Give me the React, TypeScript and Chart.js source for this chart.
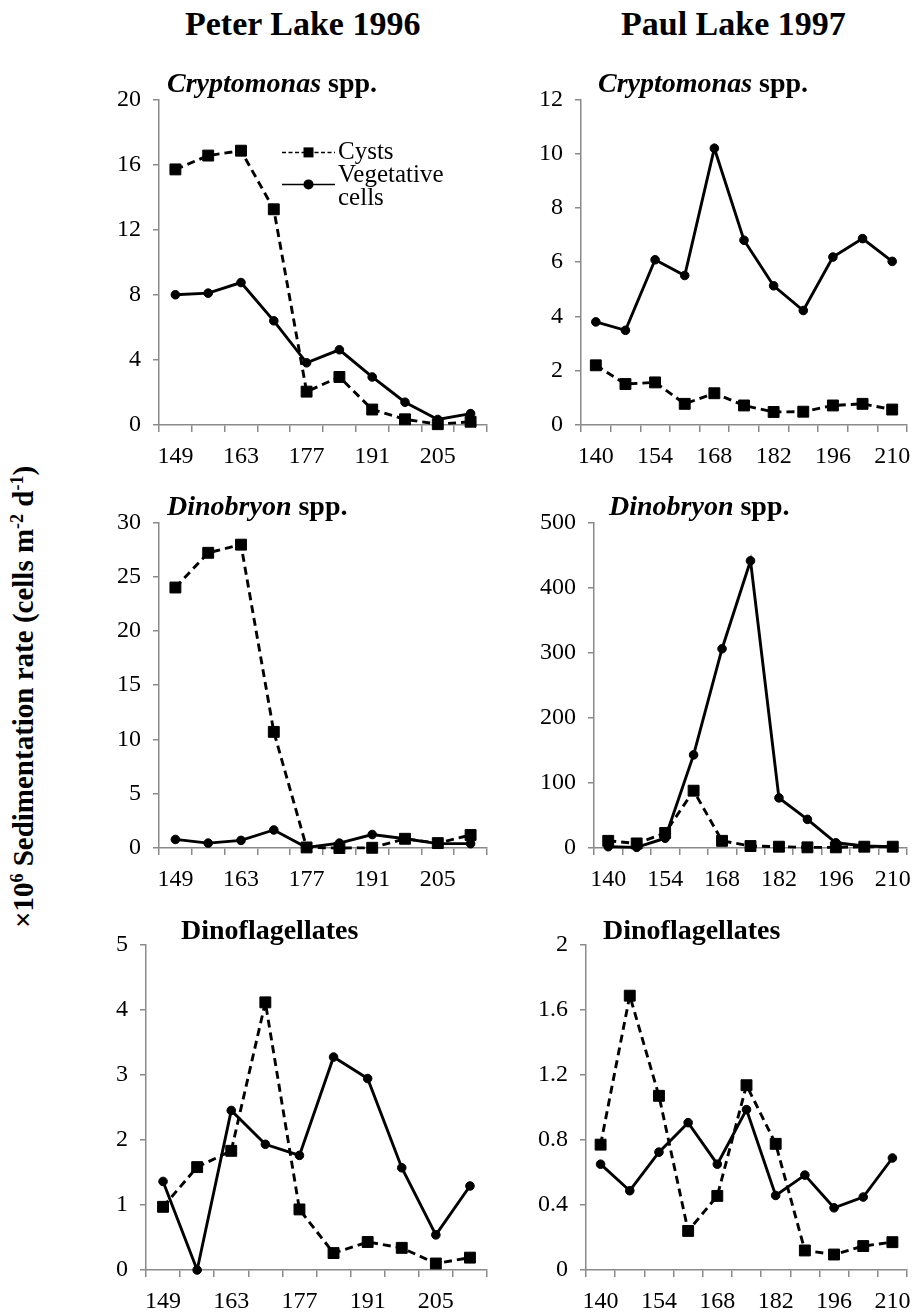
import React, { useEffect, useRef } from 'react';
import { Chart, registerables } from 'chart.js';

Chart.register(...registerables);

// ---------- data ----------
const peterDays = ['149', '156', '163', '170', '177', '184', '191', '198', '205', '212'];
const paulDays = ['140', '147', '154', '161', '168', '175', '182', '189', '196', '203', '210'];

const peterCryptoCysts = [15.7, 16.55, 16.85, 13.25, 2.05, 2.95, 0.95, 0.35, 0.05, 0.2];
const peterCryptoVeg = [8.0, 8.1, 8.75, 6.4, 3.82, 4.62, 2.95, 1.4, 0.34, 0.7];

const paulCryptoCysts = [2.2, 1.51, 1.57, 0.78, 1.17, 0.72, 0.48, 0.49, 0.72, 0.78, 0.57];
const paulCryptoVeg = [3.8, 3.49, 6.09, 5.51, 10.2, 6.81, 5.13, 4.22, 6.19, 6.87, 6.03];

const peterDinoCysts = [24.0, 27.2, 27.95, 10.7, 0.05, 0, 0.02, 0.85, 0.45, 1.2];
const peterDinoVeg = [0.79, 0.45, 0.7, 1.66, 0.05, 0.45, 1.24, 0.85, 0.4, 0.4];

const paulDinoCysts = [11, 7, 23, 88, 11, 3, 2, 1, 1, 2, 2];
const paulDinoVeg = [2, 1, 15, 143, 306, 441, 77, 44, 8, 3, 2];

const peterDinoflagCysts = [0.97, 1.58, 1.83, 4.11, 0.93, 0.26, 0.43, 0.34, 0.1, 0.19];
const peterDinoflagVeg = [1.36, 0, 2.45, 1.93, 1.76, 3.27, 2.94, 1.57, 0.54, 1.29];

const paulDinoflagCysts = [0.77, 1.685, 1.07, 0.24, 0.455, 1.135, 0.775, 0.12, 0.095, 0.147, 0.171];
const paulDinoflagVeg = [0.65, 0.487, 0.724, 0.905, 0.65, 0.985, 0.458, 0.583, 0.382, 0.448, 0.688];

// y-axis ranges [max, step]
const peterCryptoAxis = [20, 4];
const paulCryptoAxis = [12, 2];
const peterDinoAxis = [30, 5];
const paulDinoAxis = [500, 100];
const peterDinoflagAxis = [5, 1];
const paulDinoflagAxis = [2, 0.4];

const seriesNames = ['Cysts', 'Vegetative cells'];

// ---------- styling ----------
const FONT = '"Liberation Serif", "Times New Roman", serif';
const AXIS_GRAY = '#8a8a8a';
const TICK_SIZE = 24;

Chart.defaults.font.family = FONT;
Chart.defaults.font.size = TICK_SIZE;
Chart.defaults.color = '#000';

const PAD_TOP = 20;
const PAD_RIGHT = 20;
const Y_AXIS_W = 75;

type PanelCfg = {
  labels: string[];
  cysts: number[];
  veg: number[];
  axis: number[];
  left: number;
  top: number;
  right: number;
  bottom: number;
  xAxisH: number;
  legend?: boolean;
};

const legendPlugin = {
  id: 'excelLegend',
  afterDraw(chart: any) {
    const { ctx, chartArea } = chart;
    const L = chartArea.left;
    const T = chartArea.top;
    const x0 = L + 123;
    const x1 = L + 176;
    const xm = (x0 + x1) / 2;
    const tx = L + 179;
    const y1 = T + 53;
    const y2 = T + 85;
    ctx.save();
    ctx.strokeStyle = '#000';
    ctx.fillStyle = '#000';
    // Cysts
    ctx.lineWidth = 1.5;
    ctx.setLineDash([4, 2.5]);
    ctx.beginPath();
    ctx.moveTo(x0, y1);
    ctx.lineTo(x1, y1);
    ctx.stroke();
    ctx.setLineDash([]);
    ctx.fillRect(xm - 5, y1 - 5, 10, 10);
    // Vegetative
    ctx.beginPath();
    ctx.moveTo(x0, y2);
    ctx.lineTo(x1, y2);
    ctx.stroke();
    ctx.beginPath();
    ctx.arc(xm, y2, 5, 0, Math.PI * 2);
    ctx.fill();
    ctx.font = '25px ' + FONT;
    ctx.textAlign = 'left';
    ctx.textBaseline = 'alphabetic';
    ctx.fillText(seriesNames[0], tx, T + 60);
    const parts = seriesNames[1].split(' ');
    ctx.fillText(parts[0], tx, T + 83);
    ctx.fillText(parts[1], tx, T + 106);
    ctx.restore();
  },
};

function Panel({ cfg }: { cfg: PanelCfg }) {
  const ref = useRef<HTMLCanvasElement>(null);
  const plotW = cfg.right - cfg.left;
  const plotH = cfg.bottom - cfg.top;
  const cw = Y_AXIS_W + plotW + PAD_RIGHT;
  const ch = PAD_TOP + plotH + cfg.xAxisH;
  const cl = cfg.left - Y_AXIS_W;
  const ct = cfg.top - PAD_TOP;

  useEffect(() => {
    const [yMax, yStep] = cfg.axis;
    const chart = new Chart(ref.current as HTMLCanvasElement, {
      type: 'line',
      data: {
        labels: cfg.labels,
        datasets: [
          {
            label: seriesNames[0],
            data: cfg.cysts,
            borderColor: '#000',
            backgroundColor: '#000',
            borderWidth: 2.9,
            borderDash: [8, 5],
            pointStyle: 'rect',
            pointRadius: 7.7,
            pointBorderWidth: 1,
            pointBackgroundColor: '#000',
            pointBorderColor: '#000',
            tension: 0,
            clip: false as any,
            order: 1,
          },
          {
            label: seriesNames[1],
            data: cfg.veg,
            borderColor: '#000',
            backgroundColor: '#000',
            borderWidth: 2.9,
            pointStyle: 'circle',
            pointRadius: 4.3,
            pointBorderWidth: 1,
            pointBackgroundColor: '#000',
            pointBorderColor: '#000',
            tension: 0,
            clip: false as any,
            order: 0,
          },
        ],
      },
      options: {
        animation: false,
        responsive: false,
        devicePixelRatio: 1,
        layout: { padding: { top: PAD_TOP, right: PAD_RIGHT, left: 0, bottom: 0 } },
        plugins: {
          legend: { display: false },
          tooltip: { enabled: false },
          title: { display: false },
        },
        scales: {
          x: {
            type: 'category',
            offset: true,
            grid: {
              display: true,
              offset: true,
              drawOnChartArea: false,
              drawTicks: true,
              tickLength: 7,
              color: AXIS_GRAY,
              lineWidth: 1.5,
            },
            border: { display: true, color: AXIS_GRAY, width: 1.5 },
            ticks: {
              autoSkip: false,
              maxRotation: 0,
              minRotation: 0,
              padding: 10,
              font: { size: TICK_SIZE, family: FONT },
              color: '#000',
              callback: function (this: any, value: any, index: number) {
                return index % 2 === 0 ? this.getLabelForValue(value) : '';
              },
            },
            afterFit: (s: any) => {
              s.height = cfg.xAxisH;
            },
          },
          y: {
            type: 'linear',
            min: 0,
            max: yMax,
            grid: {
              display: true,
              drawOnChartArea: false,
              drawTicks: true,
              tickLength: 6,
              color: AXIS_GRAY,
              lineWidth: 1.5,
            },
            border: { display: true, color: AXIS_GRAY, width: 1.5 },
            ticks: {
              stepSize: yStep,
              padding: 12,
              font: { size: TICK_SIZE, family: FONT },
              color: '#000',
              callback: (v: any) => String(Math.round(Number(v) * 10) / 10),
            },
            afterFit: (s: any) => {
              s.width = Y_AXIS_W;
            },
          },
        },
      },
      plugins: cfg.legend ? [legendPlugin] : [],
    });
    return () => chart.destroy();
  }, []);

  return (
    <canvas
      ref={ref}
      width={cw}
      height={ch}
      style={{ position: 'absolute', left: cl, top: ct, width: cw, height: ch }}
    />
  );
}

const panels: PanelCfg[] = [
  { labels: peterDays, cysts: peterCryptoCysts, veg: peterCryptoVeg, axis: peterCryptoAxis, left: 159, top: 93, right: 487, bottom: 425, xAxisH: 50, legend: true },
  { labels: paulDays, cysts: paulCryptoCysts, veg: paulCryptoVeg, axis: paulCryptoAxis, left: 581, top: 93, right: 907, bottom: 425, xAxisH: 50 },
  { labels: peterDays, cysts: peterDinoCysts, veg: peterDinoVeg, axis: peterDinoAxis, left: 159, top: 516, right: 487, bottom: 848, xAxisH: 50 },
  { labels: paulDays, cysts: paulDinoCysts, veg: paulDinoVeg, axis: paulDinoAxis, left: 594, top: 516, right: 907, bottom: 848, xAxisH: 50 },
  { labels: peterDays, cysts: peterDinoflagCysts, veg: peterDinoflagVeg, axis: peterDinoflagAxis, left: 146, top: 938, right: 487, bottom: 1270, xAxisH: 42 },
  { labels: paulDays, cysts: paulDinoflagCysts, veg: paulDinoflagVeg, axis: paulDinoflagAxis, left: 586, top: 938, right: 907, bottom: 1270, xAxisH: 42 },
];

const panelTitles = [
  { italic: 'Cryptomonas', rest: ' spp.', left: 167, top: 68.5 },
  { italic: 'Cryptomonas', rest: ' spp.', left: 598, top: 68.5 },
  { italic: 'Dinobryon', rest: ' spp.', left: 167, top: 491.5 },
  { italic: 'Dinobryon', rest: ' spp.', left: 609, top: 491.5 },
  { italic: '', rest: 'Dinoflagellates', left: 181, top: 915.5 },
  { italic: '', rest: 'Dinoflagellates', left: 603, top: 915.5 },
];

const mainTitles = [
  { text: 'Peter Lake 1996', left: 185, top: 6.5 },
  { text: 'Paul Lake 1997', left: 621, top: 6.5 },
];

const supStyle: React.CSSProperties = {
  fontSize: '0.62em',
  position: 'relative',
  top: '-0.55em',
  verticalAlign: 'baseline',
  lineHeight: 0,
};

export default function App() {
  return (
    <div
      style={{
        position: 'absolute',
        left: 0,
        top: 0,
        width: 914,
        height: 1313,
        overflow: 'hidden',
        background: '#fff',
        fontFamily: FONT,
        color: '#000',
      }}
    >
      {panels.map((p, i) => (
        <Panel key={i} cfg={p} />
      ))}
      {mainTitles.map((t, i) => (
        <div
          key={'m' + i}
          style={{
            position: 'absolute',
            left: t.left,
            top: t.top,
            fontSize: 34,
            lineHeight: '34px',
            fontWeight: 'bold',
            whiteSpace: 'nowrap',
          }}
        >
          {t.text}
        </div>
      ))}
      {panelTitles.map((t, i) => (
        <div
          key={'p' + i}
          style={{
            position: 'absolute',
            left: t.left,
            top: t.top,
            fontSize: 28,
            lineHeight: '28px',
            fontWeight: 'bold',
            whiteSpace: 'nowrap',
          }}
        >
          {t.italic ? <i>{t.italic}</i> : null}
          {t.rest}
        </div>
      ))}
      <div
        style={{
          position: 'absolute',
          left: 23,
          top: 697,
          transform: 'translate(-50%, -50%) rotate(-90deg)',
          whiteSpace: 'nowrap',
          fontSize: 29,
          lineHeight: '29px',
          fontWeight: 'bold',
        }}
      >
        ×10<span style={supStyle}>6</span> Sedimentation rate (cells m<span style={supStyle}>-2</span> d<span style={supStyle}>-1</span>)
      </div>
    </div>
  );
}
